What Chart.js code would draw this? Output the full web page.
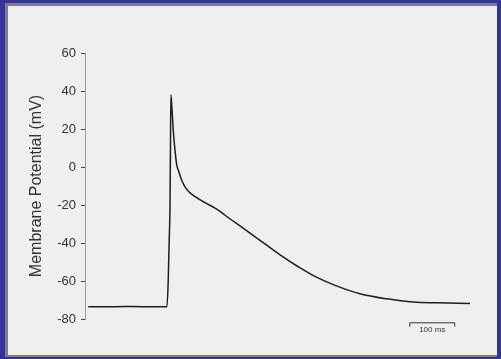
<!DOCTYPE html>
<html>
<head>
<meta charset="utf-8">
<script src="https://cdn.jsdelivr.net/npm/chart.js@4.4.1/dist/chart.umd.min.js"></script>
<style>
  html, body { margin: 0; padding: 0; }
  body { width: 501px; height: 359px; background: #333399; position: relative; overflow: hidden; }
  #frame {
    position: absolute; left: 5px; top: 3px; width: 489px; height: 349px;
    background: #efefef;
    border-top: 3px solid #7d7d7d; border-left: 3px solid #7d7d7d;
    border-bottom: 2px solid #7d7d7d;
  }
  #wrap { position: absolute; left: 0; top: 0; width: 501px; height: 359px; }
</style>
</head>
<body>
<div id="frame"></div>
<div id="wrap"><canvas id="apChart"></canvas></div>
<script>
// time (ms) and membrane potential (mV)
const timeMs = [0, 40, 80, 120, 160, 175, 178, 180, 182, 183, 184, 187, 189, 191, 193, 197, 201, 208, 215, 225, 238,
                260, 282, 319, 356, 393, 430, 467, 504, 549, 604, 664, 723, 775, 849];
const potentialMv = [-73.5, -73.6, -73.4, -73.5, -73.5, -73.5, -60, -40, -20, 10, 38, 28, 20, 14, 9, 1, -2, -7, -10.3, -13.3, -15.6,
                     -18.8, -21.7, -27.9, -34.1, -40.5, -46.8, -52.5, -57.6, -62.3, -66.7, -69.4, -71.1, -71.5, -71.8];
const yTicks = [60, 40, 20, 0, -20, -40, -60, -80];
const scaleBarMs = [715, 815];
const scaleBarLabel = "100 ms";

const points = timeMs.map((t, i) => ({ x: t, y: potentialMv[i] }));

// little time scale bar under the trace
const scaleBar = {
    id: "scaleBar",
    afterDraw(chart) {
        const { ctx, scales } = chart;
        const x1 = scales.x.getPixelForValue(scaleBarMs[0]);
        const x2 = scales.x.getPixelForValue(scaleBarMs[1]);
        const y = scales.y.getPixelForValue(-82);
        ctx.save();
        ctx.strokeStyle = "#333";
        ctx.lineWidth = 1;
        ctx.beginPath();
        ctx.moveTo(x1, y + 4);
        ctx.lineTo(x1, y);
        ctx.lineTo(x2, y);
        ctx.lineTo(x2, y + 4);
        ctx.stroke();
        ctx.fillStyle = "#333";
        ctx.font = "8px Liberation Sans";
        ctx.textAlign = "center";
        ctx.textBaseline = "top";
        ctx.fillText(scaleBarLabel, (x1 + x2) / 2, y + 3);
        ctx.restore();
    }
};

new Chart(document.getElementById("apChart").getContext("2d"), {
    type: "scatter",
    data: {
        datasets: [{
            data: points,
            showLine: true,
            borderColor: "#1e1e1e",
            borderWidth: 1.5,
            pointRadius: 0,
            cubicInterpolationMode: "monotone"
        }]
    },
    options: {
        responsive: true,
        maintainAspectRatio: false,
        animation: false,
        layout: { padding: { left: 0, top: 53, right: 26, bottom: 40 } },
        plugins: {
            legend: { display: false },
            tooltip: { enabled: false }
        },
        scales: {
            x: { type: "linear", display: false, min: -7, max: 860 },
            y: {
                min: -80, max: 60,
                afterBuildTicks: (scale) => { scale.ticks = yTicks.map(v => ({ value: v })); },
                afterFit: (scale) => { scale.width = 85; },
                border: { color: "#9a9a9a", width: 1 },
                grid: { drawOnChartArea: false, color: "#444", tickLength: 4 },
                ticks: {
                    color: "#333",
                    padding: 5,
                    font: { family: "Liberation Sans", size: 13 }
                },
                title: {
                    display: true,
                    text: "Membrane Potential (mV)",
                    color: "#333",
                    padding: { top: 27, bottom: 0 },
                    font: { family: "Liberation Sans", size: 16 }
                }
            }
        }
    },
    plugins: [scaleBar]
});
</script>
</body>
</html>
